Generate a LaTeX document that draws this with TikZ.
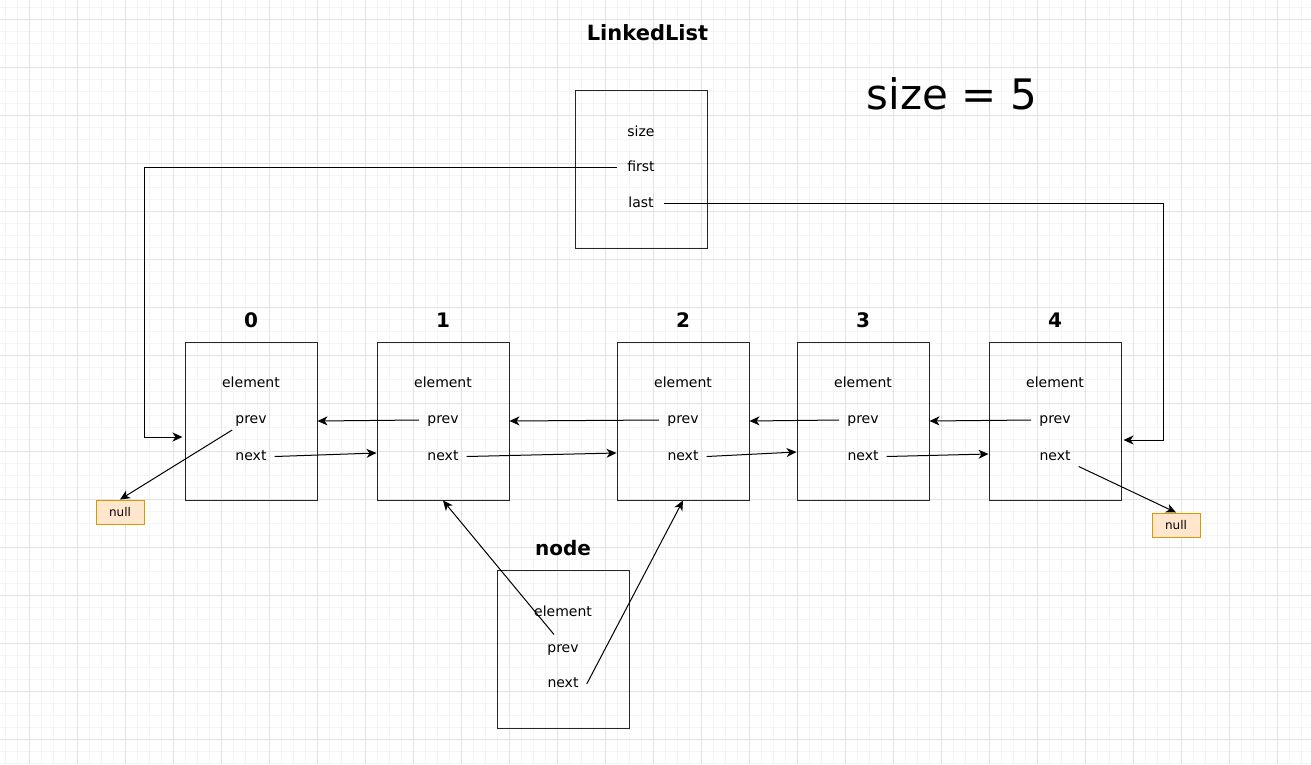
\documentclass[tikz,border=0pt]{standalone}
\usepackage{fontspec}
\setmainfont{DejaVu Sans}
\usetikzlibrary{arrows.meta,calc}
\definecolor{nullfill}{HTML}{FFE6CC}
\definecolor{nullborder}{HTML}{D79B00}
\definecolor{gminor}{HTML}{F4F4F4}
\definecolor{gmajor}{HTML}{E2E2E2}
\begin{document}
\begin{tikzpicture}[x=1pt,y=-1pt,
  gridminor/.style={draw=gminor, line width=0.8pt},
  gridmajor/.style={draw=gmajor, line width=1pt},
  cell/.style={draw=black!85, line width=1pt, minimum width=132pt, minimum height=158pt, inner sep=0pt},
  fld/.style={font=\fontsize{14}{16}\selectfont, text height=10pt, text depth=3pt, inner xsep=8pt, inner ysep=1pt},
  idx/.style={font=\fontsize{20}{24}\selectfont\bfseries, inner sep=0pt},
  nullbox/.style={draw=nullborder, fill=nullfill, line width=1pt, minimum width=48pt, minimum height=24pt, inner sep=0pt, font=\fontsize{12}{14}\selectfont},
  arr/.style={draw=black, line width=1pt, -{Stealth[length=10pt,width=9pt,inset=3pt]}}
]
\useasboundingbox (0,0) rectangle (1311,764);
\fill[white] (0,0) rectangle (1311,764);
% grid
\foreach \i in {0,...,109} \draw[gridminor] ({5.33+12*\i},0) -- ({5.33+12*\i},764);
\foreach \i in {0,...,63} \draw[gridminor] (0,{7.33+12*\i}) -- (1311,{7.33+12*\i});
\foreach \i in {0,...,27} \draw[gridmajor] ({29.33+48*\i},0) -- ({29.33+48*\i},764);
\foreach \i in {0,...,15} \draw[gridmajor] (0,{19.33+48*\i}) -- (1311,{19.33+48*\i});

% titles
\node[idx, font=\fontsize{21}{25}\selectfont\bfseries] (ttl) at (647.5,32.5) {LinkedList};
\node[font=\fontsize{42}{48}\selectfont, inner sep=0pt] (sz) at (952,94) {size = 5};

% top LinkedList box
\node[cell] (top) at (641,169) {};
\node[fld] (ts) at (641,133) {size};
\node[fld] (tf) at (641,167.5) {first};
\node[fld] (tl) at (641,203.5) {last};

% list nodes
\foreach \n/\cx in {0/251,1/443,2/683,3/863,4/1055}{
  \node[cell] (b\n) at (\cx,421) {};
  \node[idx] (i\n) at (\cx,320) {\n};
  \node[fld] (b\n e) at (\cx,383.5) {element};
  \node[fld] (b\n p) at (\cx,420) {prev};
  \node[fld] (b\n n) at (\cx,456.5) {next};
}

% new node
\node[idx] (ndl) at (563,548.5) {node};
\node[cell] (nd) at (563,649) {};
\node[fld] (ne) at (563,612.5) {element};
\node[fld] (np) at (563,648.5) {prev};
\node[fld] (nn) at (563,684) {next};

% null boxes
\node[nullbox] (nl) at (120,512) {null};
\node[nullbox] (nr) at (1176,525) {null};

% first / last pointers
\coordinate (lx) at (144,0);
\coordinate (rx) at (1163,0);
\coordinate (t0) at ([xshift=-2pt,yshift=-16pt]b0.west);
\coordinate (t4) at ([xshift=2pt,yshift=-19pt]b4.east);
\draw[arr] ([xshift=-2pt]tf.west) -- (tf.west -| lx) -- (lx |- t0) -- (t0);
\draw[arr] ([xshift=2pt]tl.east) -- (tl.east -| rx) -- (rx |- t4) -- (t4);

% next pointers
\draw[arr] (b0n.east) -- ([yshift=-32pt]b1.west);
\draw[arr] (b1n.east) -- ([yshift=-32pt]b2.west);
\draw[arr] (b2n.east) -- ([yshift=-31pt]b3.west);
\draw[arr] (b3n.east) -- ([yshift=-33pt]b4.west);
\draw[arr] ($(b4n.east)+(0,10)$) -- (nr.north);

% prev pointers
\draw[arr] ($(b0p.west)+(5,10)$) -- (nl.north);
\draw[arr] (b1p.west) -- (b0.east);
\draw[arr] (b2p.west) -- (b1.east);
\draw[arr] (b3p.west) -- (b2.east);
\draw[arr] (b4p.west) -- (b3.east);

% new node pointers
\draw[arr] ($(np.center)+(-9,-14)$) -- (b1.south);
\draw[arr] (nn.east) -- (b2.south);
\end{tikzpicture}
\end{document}
